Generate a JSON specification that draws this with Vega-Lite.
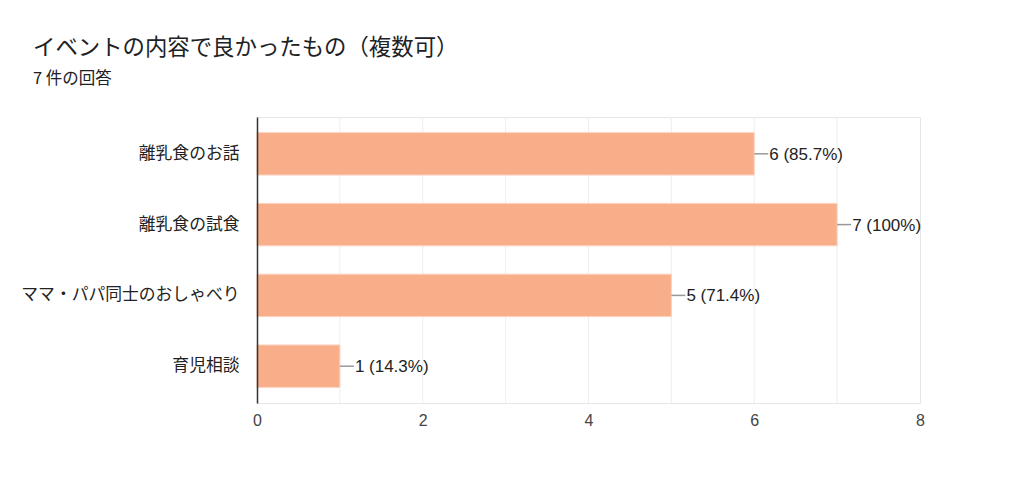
{
  "$schema": "https://vega.github.io/schema/vega-lite/v6.json",
  "autosize": {"type": "none"},
  "width": 663,
  "height": 286,
  "padding": {"left": 257, "top": 117, "right": 104, "bottom": 84},
  "background": "white",
  "title": {
    "text": "イベントの内容で良かったもの（複数可）",
    "subtitle": "7 件の回答",
    "anchor": "start",
    "frame": "group",
    "dx": -224,
    "offset": 29,
    "font": "Noto Sans CJK JP",
    "fontSize": 22.4,
    "fontWeight": "normal",
    "color": "#202124",
    "subtitleFont": "Noto Sans CJK JP",
    "subtitleFontSize": 16.5,
    "subtitleColor": "#202124",
    "subtitlePadding": 12
  },
  "config": {
    "view": {"stroke": "#e6e6e6", "strokeWidth": 1},
    "font": "Noto Sans CJK JP"
  },
  "data": {
    "values": [
      {"item": "離乳食のお話", "count": 6, "label": "6 (85.7%)"},
      {"item": "離乳食の試食", "count": 7, "label": "7 (100%)"},
      {"item": "ママ・パパ同士のおしゃべり", "count": 5, "label": "5 (71.4%)"},
      {"item": "育児相談", "count": 1, "label": "1 (14.3%)"}
    ]
  },
  "encoding": {
    "y": {
      "field": "item",
      "type": "nominal",
      "sort": null,
      "title": null,
      "scale": {"paddingInner": 0.4, "paddingOuter": 0.22},
      "axis": {
        "ticks": false,
        "zindex": 1,
        "domainColor": "#333333",
        "domainWidth": 1.5,
        "labelPadding": 18,
        "labelFontSize": 16.8,
        "labelColor": "#222222",
        "labelFont": "Noto Sans CJK JP",
        "labelLimit": 300
      }
    }
  },
  "layer": [
    {
      "mark": {"type": "rule", "color": "#eeeeee", "strokeWidth": 1},
      "data": {"values": [{"g": 1}, {"g": 2}, {"g": 3}, {"g": 4}, {"g": 5}, {"g": 6}, {"g": 7}]},
      "encoding": {
        "x": {
          "field": "g",
          "type": "quantitative",
          "title": null,
          "scale": {"domain": [0, 8], "nice": false},
          "axis": {
            "values": [0, 2, 4, 6, 8],
            "format": "d",
            "labelFlush": false,
            "domain": false,
            "ticks": false,
            "grid": false,
            "labelPadding": 9,
            "labelFontSize": 16,
            "labelColor": "#444444",
            "labelFont": "Liberation Sans"
          }
        },
        "y": null
      }
    },
    {
      "mark": {"type": "bar", "color": "#f9ae8a", "stroke": "#fbd4c2", "strokeWidth": 1},
      "encoding": {
        "x": {"field": "count", "type": "quantitative"}
      }
    },
    {
      "mark": {"type": "rule", "color": "#999999", "strokeWidth": 1.5, "x2Offset": 14},
      "encoding": {
        "x": {"field": "count", "type": "quantitative"},
        "x2": {"field": "count"}
      }
    },
    {
      "mark": {"type": "text", "align": "left", "baseline": "middle", "dx": 15, "dy": 1, "fontSize": 17, "color": "#222222", "font": "Liberation Sans"},
      "encoding": {
        "x": {"field": "count", "type": "quantitative"},
        "text": {"field": "label"}
      }
    }
  ]
}
